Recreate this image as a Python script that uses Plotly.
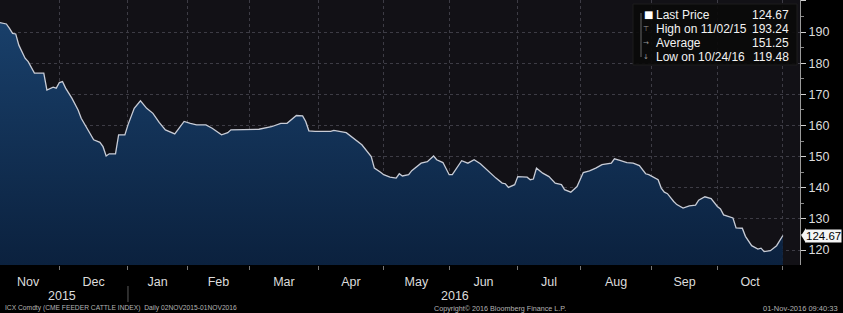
import pandas as pd
import plotly.graph_objects as go

# ---------------- data ----------------
holidays = ["2015-11-26", "2015-12-25", "2016-01-01", "2016-01-18", "2016-02-15",
            "2016-03-25", "2016-05-30", "2016-07-04", "2016-09-05"]
month_names = ["Nov", "Dec", "Jan", "Feb", "Mar", "Apr", "May", "Jun",
               "Jul", "Aug", "Sep", "Oct"]
year_labels = ["2015", "2016"]

# trading-session number (0 = 02NOV2015 ... 252 = 01NOV2016) and index value
session = [0, 1, 3, 4, 5, 6, 7, 9, 10, 12, 15, 16, 18, 19, 20, 21, 22, 24, 26, 27,
           29, 31, 33, 34, 35, 36, 38, 39, 41, 42, 44, 46, 48, 50, 52, 54, 57, 58,
           60, 62, 64, 67, 69, 72, 74, 75, 79, 81, 84, 88, 91, 93, 96, 98, 99, 100,
           102, 107, 108, 112, 115, 117, 120, 121, 123, 124, 126, 128, 129, 130,
           132, 133, 136, 138, 140, 141, 143, 145, 146, 149, 151, 153, 155, 157,
           160, 162, 163, 164, 166, 167, 170, 171, 172, 173, 175, 177, 179, 181,
           182, 184, 186, 188, 190, 192, 194, 197, 198, 200, 202, 204, 206, 208,
           209, 212, 213, 214, 215, 217, 218, 220, 222, 224, 225, 227, 229, 231,
           232, 233, 236, 237, 239, 240, 242, 244, 245, 246, 248, 250, 251, 252]
price = [193.24, 193.0, 192.6, 191.2, 189.6, 189.4, 185.8, 181.6, 180.5, 176.8,
         176.8, 171.4, 172.3, 172.0, 173.8, 174.1, 172.0, 168.8, 165.0, 162.3,
         158.6, 155.4, 154.6, 153.2, 150.2, 150.9, 150.9, 157.0, 157.0, 160.2,
         165.5, 167.9, 165.5, 163.9, 161.0, 158.6, 157.3, 158.6, 161.3, 160.7,
         160.2, 160.2, 159.1, 157.0, 157.7, 158.6, 158.6, 158.8, 158.8, 159.6,
         160.7, 160.7, 163.2, 163.1, 161.3, 158.3, 158.1, 158.1, 158.4, 157.7,
         155.4, 153.8, 150.0, 146.3, 145.0, 144.2, 143.4, 143.1, 144.5, 143.8,
         144.2, 145.5, 147.9, 148.4, 150.2, 149.0, 148.1, 144.2, 144.2, 148.7,
         147.9, 149.0, 147.7, 145.8, 143.1, 141.5, 141.3, 140.1, 141.0, 143.6,
         143.4, 142.6, 142.8, 146.3, 144.7, 143.6, 141.5, 141.0, 139.4, 138.6,
         140.4, 144.9, 145.4, 146.3, 147.4, 147.9, 149.3, 148.7, 148.1, 147.9,
         147.1, 144.5, 144.2, 142.6, 139.9, 138.6, 138.1, 135.6, 134.6, 133.5,
         134.2, 134.4, 136.0, 137.1, 136.5, 134.0, 133.2, 131.3, 130.3, 127.1,
         127.0, 124.4, 121.4, 120.3, 120.6, 119.48, 119.8, 121.4, 123.0, 124.67]

legend_labels = ["Last Price", "High on 11/02/15", "Average", "Low on 10/24/16"]
legend_values = ["124.67", "193.24", "151.25", "119.48"]
last_price = 124.67

# ---------------- trading calendar ----------------
cal = pd.bdate_range("2015-11-02", "2016-11-01")
cal = cal[~cal.isin(pd.to_datetime(holidays))]
month_starts = [i for i in range(len(cal)) if i == 0 or cal[i].month != cal[i - 1].month]
month_mids = [(a + b) / 2 for a, b in zip(month_starts[:-1], month_starts[1:])]
jan_start = month_starts[2]
year_pos = [(month_starts[0] + jan_start) / 2, (jan_start + month_starts[-1]) / 2]

FONT = "Liberation Sans"
GRID = "#3d3c45"

fig = go.Figure()
fig.add_trace(go.Scatter(
    x=session, y=price, mode="lines",
    line=dict(color="#c8ccd6", width=1.3),
    fill="tozeroy",
    fillgradient=dict(type="vertical", start=115, stop=195,
                      colorscale=[[0, "#0b213e"], [1, "#19406b"]]),
    hoverinfo="skip",
))

fig.update_layout(
    width=843, height=313,
    margin=dict(l=0, r=43, t=0, b=48),
    paper_bgcolor="#000000", plot_bgcolor="#121116",
    showlegend=False,
    font=dict(family=FONT, color="#d9d9d9", size=12),
)

fig.update_xaxes(
    range=[0.96, 257.5],
    tickmode="array", tickvals=month_mids, ticktext=month_names,
    ticks="", showgrid=False, zeroline=False, showline=False,
    tickfont=dict(size=12.5, color="#dcdcdc"),
    ticklabelstandoff=7,
    minor=dict(tickmode="array", tickvals=month_starts, showgrid=True,
               gridcolor=GRID, griddash="dot", gridwidth=1,
               ticks="outside", ticklen=4, tickcolor="#777"),
)

yt = list(range(120, 201, 10))
fig.update_yaxes(
    side="right", range=[115.2, 200.3],
    tickmode="array", tickvals=yt, ticktext=[str(v) if v < 200 else "" for v in yt],
    ticks="outside", ticklen=5, tickcolor="#cfcfcf",
    showline=True, linecolor="#9a9a9a", linewidth=1,
    showgrid=True, gridcolor=GRID, griddash="dot", gridwidth=1,
    zeroline=False,
    tickfont=dict(size=12.5, color="#dcdcdc"),
    minor=dict(dtick=5, tick0=0, ticks="outside", ticklen=3, tickcolor="#888", showgrid=False),
)

shapes = []
annotations = []

# legend box
shapes.append(dict(type="rect", xref="paper", yref="paper",
                   x0=633 / 800, x1=797 / 800, y0=(265 - 65) / 265, y1=(265 - 4) / 265,
                   fillcolor="rgba(10,10,10,0.92)", line=dict(color="#1c1c1c", width=1),
                   layer="above"))
shapes.append(dict(type="line", xref="paper", yref="paper",
                   x0=641 / 800, x1=641 / 800, y0=(265 - 57) / 265, y1=(265 - 13) / 265,
                   line=dict(color="#666", width=1), layer="above"))
rows_py = [15, 29, 43, 57]
icons = ["■", "⊤", "→", "↓"]
for i, (lab, val, py) in enumerate(zip(legend_labels, legend_values, rows_py)):
    yp = (265 - py) / 265
    annotations.append(dict(xref="paper", yref="paper", x=654 / 800, y=yp,
                            xanchor="left", yanchor="middle", text=lab, showarrow=False,
                            font=dict(size=12, color="#f2f2f2", family=FONT)))
    annotations.append(dict(xref="paper", yref="paper", x=791 / 800, y=yp,
                            xanchor="right", yanchor="middle", text=val, showarrow=False,
                            font=dict(size=12, color="#f2f2f2", family=FONT)))
    annotations.append(dict(xref="paper", yref="paper", x=(648 if i == 0 else 646) / 800, y=yp,
                            xanchor="center", yanchor="middle", text=icons[i], showarrow=False,
                            font=dict(size=10 if i == 0 else 7,
                                      color="#ffffff" if i == 0 else "#9a9a9a", family="DejaVu Sans")))

# last price tag
annotations.append(dict(xref="paper", yref="y", x=1.0, y=last_price, xanchor="left",
                        yanchor="middle", xshift=5, text=f"{last_price:.2f}", showarrow=False,
                        bgcolor="#f4f4f4", borderpad=0,
                        font=dict(size=11.5, color="#000000", family=FONT)))
shapes.append(dict(type="path", xref="paper", yref="y",
                   path=f"M 1.0015,{last_price} L 1.0075,{last_price + 2.4} L 1.0075,{last_price - 2.4} Z",
                   fillcolor="#f4f4f4", line=dict(width=0), layer="above"))

# year labels and separator
for pos, ylab in zip(year_pos, year_labels):
    annotations.append(dict(xref="x", yref="paper", x=pos, y=(265 - 296) / 265,
                            xanchor="center", yanchor="middle", text=ylab, showarrow=False,
                            font=dict(size=12.5, color="#dcdcdc", family=FONT)))
shapes.append(dict(type="line", xref="x", yref="paper", x0=jan_start, x1=jan_start,
                   y0=(265 - 286) / 265, y1=(265 - 302) / 265,
                   line=dict(color="#5a5a5a", width=1)))

# footer
foot_y = (265 - 308) / 265
FOOT = dict(size=6.7, color="#b4b4b4", family=FONT)
annotations.append(dict(xref="paper", yref="paper", x=3 / 800, y=foot_y, xanchor="left",
                        yanchor="middle", showarrow=False,
                        text="ICX Comdty (CME FEEDER CATTLE INDEX)  Daily 02NOV2015-01NOV2016",
                        font=FOOT))
annotations.append(dict(xref="paper", yref="paper", x=432 / 800, y=foot_y, xanchor="left",
                        yanchor="middle", showarrow=False,
                        text="Copyright© 2016 Bloomberg Finance L.P.",
                        font=dict(FOOT, size=7.2)))
annotations.append(dict(xref="paper", yref="paper", x=840 / 800, y=foot_y, xanchor="right",
                        yanchor="middle", showarrow=False,
                        text="01-Nov-2016 09:40:33",
                        font=dict(FOOT, size=7.5)))

fig.update_layout(shapes=shapes, annotations=annotations)
fig.write_html("out.html")
